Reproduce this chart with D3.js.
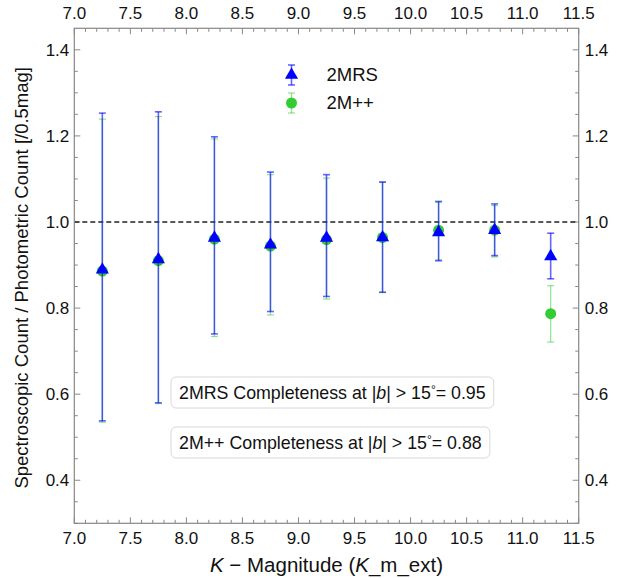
<!DOCTYPE html>
<html>
<head>
<meta charset="utf-8">
<script src="https://cdn.jsdelivr.net/npm/d3@7"></script>
<style>
  body { margin: 0; background: #fff; }
  text { font-family: "Liberation Sans", Arial, sans-serif; fill: #111; }
</style>
</head>
<body>
<svg id="chart" width="625" height="578"></svg>
<script>
// bins of K magnitude (0.5 mag wide)
var kBins = [7.25, 7.75, 8.25, 8.75, 9.25, 9.75, 10.25, 10.75, 11.25];

// 2MRS ratio and error range
var mrsRatio = [0.889, 0.913, 0.963, 0.947, 0.963, 0.964, 0.976, 0.981, 0.920];
var mrsLow   = [0.538, 0.580, 0.740, 0.792, 0.827, 0.837, 0.910, 0.922, 0.868];
var mrsHigh  = [1.253, 1.256, 1.198, 1.116, 1.110, 1.093, 1.047, 1.042, 0.974];

// 2M++ ratio and error range
var mppRatio = [0.886, 0.910, 0.960, 0.944, 0.959, 0.964, 0.981, 0.981, 0.787];
var mppLow   = [0.535, 0.578, 0.734, 0.784, 0.821, 0.836, 0.912, 0.919, 0.721];
var mppHigh  = [1.239, 1.245, 1.193, 1.110, 1.102, 1.092, 1.049, 1.038, 0.852];

var xTicks = [7.0, 7.5, 8.0, 8.5, 9.0, 9.5, 10.0, 10.5, 11.0, 11.5];
var yTicks = [0.4, 0.6, 0.8, 1.0, 1.2, 1.4];

var completeness = [
  {name: '2MRS', value: '0.95'},
  {name: '2M++', value: '0.88'}
];

var margin = {left: 74.3, top: 28.3, right: 46.3, bottom: 54.7};
var svg = d3.select('#chart');
var width = 625 - margin.left - margin.right;
var height = 578 - margin.top - margin.bottom;

var g = svg.append('g')
  .attr('transform', 'translate(' + margin.left + ',' + margin.top + ')');

var x = d3.scaleLinear().domain([7.0, 11.5]).range([0, width]);
var y = d3.scaleLinear().domain([0.3, 1.45]).range([height, 0]);

var axisColor = '#888';
var fmt = d3.format('.1f');

// ticks, all pointing inward
function drawTicks() {
  var xMinor = d3.range(70, 116).map(function(d) { return d / 10; });
  var yMinor = d3.range(6, 29).map(function(d) { return d * 0.05; });

  g.selectAll('.xminor').data(xMinor).enter().append('g')
    .each(function(d) {
      var s = d3.select(this);
      var major = xTicks.some(function(t) { return Math.abs(t - d) < 1e-6; });
      var len = major ? 6 : 3.5;
      s.append('line').attr('x1', x(d)).attr('x2', x(d)).attr('y1', height).attr('y2', height - len);
      s.append('line').attr('x1', x(d)).attr('x2', x(d)).attr('y1', 0).attr('y2', len);
    })
    .selectAll('line').attr('stroke', axisColor).attr('stroke-width', 1);

  g.selectAll('.yminor').data(yMinor).enter().append('g')
    .each(function(d) {
      var s = d3.select(this);
      var major = yTicks.some(function(t) { return Math.abs(t - d) < 1e-6; });
      var len = major ? 6 : 3.5;
      s.append('line').attr('x1', 0).attr('x2', len).attr('y1', y(d)).attr('y2', y(d));
      s.append('line').attr('x1', width).attr('x2', width - len).attr('y1', y(d)).attr('y2', y(d));
    })
    .selectAll('line').attr('stroke', axisColor).attr('stroke-width', 1);

  g.selectAll('.xlab-b').data(xTicks).enter().append('text')
    .attr('x', function(d) { return x(d); })
    .attr('y', height + 21)
    .attr('text-anchor', 'middle')
    .style('font-size', '17px')
    .text(fmt);
  g.selectAll('.xlab-t').data(xTicks).enter().append('text')
    .attr('x', function(d) { return x(d); })
    .attr('y', -9)
    .attr('text-anchor', 'middle')
    .style('font-size', '17px')
    .text(fmt);
  g.selectAll('.ylab-l').data(yTicks).enter().append('text')
    .attr('x', -5)
    .attr('y', function(d) { return y(d) + 6; })
    .attr('text-anchor', 'end')
    .style('font-size', '17px')
    .text(fmt);
  g.selectAll('.ylab-r').data(yTicks).enter().append('text')
    .attr('x', width + 6)
    .attr('y', function(d) { return y(d) + 6; })
    .attr('text-anchor', 'start')
    .style('font-size', '17px')
    .text(fmt);
}

function errorBars(ratio, low, high, color, opts) {
  var data = kBins.map(function(k, i) {
    return {k: k, v: ratio[i], lo: low[i], hi: high[i]};
  });
  var layer = g.append('g');
  var bars = layer.selectAll('g').data(data).enter().append('g')
    .attr('stroke', color)
    .attr('stroke-opacity', opts.barOpacity)
    .attr('stroke-width', opts.barWidth);
  bars.append('line')
    .attr('x1', function(d) { return x(d.k); })
    .attr('x2', function(d) { return x(d.k); })
    .attr('y1', function(d) { return y(d.lo); })
    .attr('y2', function(d) { return y(d.hi); });
  ['lo', 'hi'].forEach(function(key) {
    bars.append('line')
      .attr('x1', function(d) { return x(d.k) - 3.5; })
      .attr('x2', function(d) { return x(d.k) + 3.5; })
      .attr('y1', function(d) { return y(d[key]); })
      .attr('y2', function(d) { return y(d[key]); });
  });
  layer.selectAll('path').data(data).enter().append('path')
    .attr('d', d3.symbol().type(opts.symbol).size(opts.size))
    .attr('transform', function(d) { return 'translate(' + x(d.k) + ',' + y(d.v) + ')'; })
    .attr('fill', color);
}

function legendItem(cy, label, color, opts) {
  var lx = 291.5 - margin.left, ly = cy - margin.top;
  var s = g.append('g')
    .attr('stroke', color)
    .attr('stroke-opacity', opts.barOpacity)
    .attr('stroke-width', opts.barWidth);
  s.append('line').attr('x1', lx).attr('x2', lx).attr('y1', ly - 10).attr('y2', ly + 10);
  s.append('line').attr('x1', lx - 3.5).attr('x2', lx + 3.5).attr('y1', ly - 10).attr('y2', ly - 10);
  s.append('line').attr('x1', lx - 3.5).attr('x2', lx + 3.5).attr('y1', ly + 10).attr('y2', ly + 10);
  g.append('path')
    .attr('d', d3.symbol().type(opts.symbol).size(opts.size))
    .attr('transform', 'translate(' + lx + ',' + ly + ')')
    .attr('fill', color);
  g.append('text')
    .attr('x', lx + 35)
    .attr('y', ly + 6.5)
    .style('font-size', '18.5px')
    .text(label);
}

function infoBox(top, item) {
  var t = g.append('text')
    .attr('x', 179 - margin.left)
    .attr('y', top - margin.top + 22)
    .style('font-size', '17.8px');
  t.append('tspan').text(item.name + ' Completeness at |');
  t.append('tspan').style('font-style', 'italic').text('b');
  t.append('tspan').text('| > 15');
  t.append('tspan').attr('dy', -5).style('font-size', '12px').text('°');
  t.append('tspan').attr('dy', 5).text('= ' + item.value);
  var bb = t.node().getBBox();
  g.insert('rect', 'text')
    .attr('x', bb.x - 8)
    .attr('y', top - margin.top)
    .attr('width', bb.width + 16)
    .attr('height', 31)
    .attr('rx', 5)
    .attr('fill', '#fff')
    .attr('fill-opacity', 0.85)
    .attr('stroke', '#d8d8d8');
}

var mppStyle = {symbol: d3.symbolCircle, size: 95, barOpacity: 0.55, barWidth: 1.2};
var mrsStyle = {symbol: d3.symbolTriangle, size: 75, barOpacity: 0.6, barWidth: 1.6};

drawTicks();

// dashed reference line at unity
g.append('line')
  .attr('x1', 0).attr('x2', width)
  .attr('y1', y(1)).attr('y2', y(1))
  .attr('stroke', '#222')
  .attr('stroke-width', 1.3)
  .attr('stroke-dasharray', '5,3');

errorBars(mppRatio, mppLow, mppHigh, '#33cc33', mppStyle);
errorBars(mrsRatio, mrsLow, mrsHigh, '#0000ff', mrsStyle);

legendItem(75, '2MRS', '#0000ff', mrsStyle);
legendItem(103, '2M++', '#33cc33', mppStyle);

infoBox(377, completeness[0]);
infoBox(427, completeness[1]);

// frame
g.append('rect')
  .attr('width', width).attr('height', height)
  .attr('fill', 'none')
  .attr('stroke', axisColor)
  .attr('stroke-width', 1.2);

// axis titles
var xt = svg.append('text')
  .attr('x', margin.left + width / 2)
  .attr('y', 572)
  .attr('text-anchor', 'middle')
  .style('font-size', '20.5px');
xt.append('tspan').style('font-style', 'italic').text('K');
xt.append('tspan').text(' \u2212 Magnitude (');
xt.append('tspan').style('font-style', 'italic').text('K');
xt.append('tspan').text('_m_ext)');

svg.append('text')
  .attr('transform', 'translate(28,' + (margin.top + height / 2 + 2) + ') rotate(-90)')
  .attr('text-anchor', 'middle')
  .style('font-size', '18.5px')
  .text('Spectroscopic Count / Photometric Count [/0.5mag]');
</script>
</body>
</html>
